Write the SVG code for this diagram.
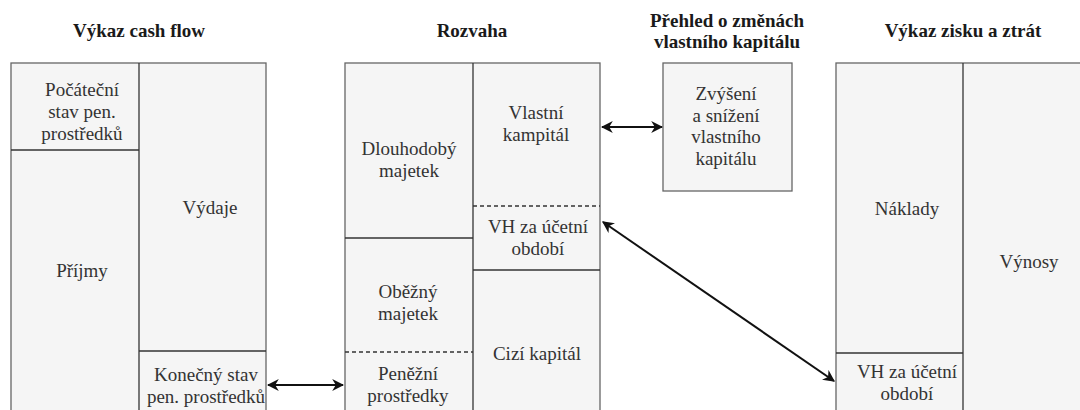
<svg xmlns="http://www.w3.org/2000/svg" width="1080" height="410" viewBox="0 0 1080 410">
<style>
.cell{fill:#f5f5f5;stroke:#666;stroke-width:1.3}
.div{stroke:#333;stroke-width:1.3;fill:none}
.dash{stroke:#333;stroke-width:1.3;stroke-dasharray:4 3;fill:none}
.t{font-family:'Liberation Serif','Times New Roman',serif;font-size:19px;fill:#333;text-anchor:middle}
.h{font-family:'Liberation Serif','Times New Roman',serif;font-size:19px;font-weight:bold;fill:#1a1a1a;text-anchor:middle}
.con{stroke:#111;stroke-width:2;fill:none;marker-start:url(#arr);marker-end:url(#arr)}
</style>
<defs>
<marker id="arr" viewBox="0 0 10 10" refX="9" refY="5" markerWidth="12" markerHeight="12" markerUnits="userSpaceOnUse" orient="auto-start-reverse">
<path d="M0,0 L10,5 L0,10 L3,5 Z" fill="#111"/>
</marker>
</defs>
<rect width="1080" height="410" fill="#fff"/>

<g id="cashflow">
<text class="h" x="139" y="37">Výkaz cash flow</text>
<rect class="cell" x="11" y="63" width="255" height="360"/>
<line class="div" x1="139" y1="63" x2="139" y2="423"/>
<line class="div" x1="11" y1="150" x2="139" y2="150"/>
<line class="div" x1="139" y1="351" x2="266" y2="351"/>
<text class="t"><tspan x="82" y="96">Počáteční</tspan><tspan x="82" y="118">stav pen.</tspan><tspan x="82" y="140">prostředků</tspan></text>
<text class="t" x="82" y="277">Příjmy</text>
<text class="t" x="210" y="214">Výdaje</text>
<text class="t"><tspan x="206" y="381">Konečný stav</tspan><tspan x="206" y="403">pen. prostředků</tspan></text>
</g>

<g id="rozvaha">
<text class="h" x="472" y="37">Rozvaha</text>
<rect class="cell" x="345" y="63" width="255" height="360"/>
<line class="div" x1="473" y1="63" x2="473" y2="423"/>
<line class="div" x1="345" y1="238" x2="473" y2="238"/>
<line class="dash" x1="345" y1="352" x2="473" y2="352"/>
<line class="dash" x1="473" y1="206" x2="600" y2="206"/>
<line class="div" x1="473" y1="270" x2="600" y2="270"/>
<text class="t"><tspan x="409" y="155">Dlouhodobý</tspan><tspan x="409" y="177">majetek</tspan></text>
<text class="t"><tspan x="408" y="298">Oběžný</tspan><tspan x="408" y="320">majetek</tspan></text>
<text class="t"><tspan x="408" y="380">Peněžní</tspan><tspan x="408" y="402">prostředky</tspan></text>
<text class="t"><tspan x="536" y="119">Vlastní</tspan><tspan x="536" y="141">kampitál</tspan></text>
<text class="t"><tspan x="538" y="233">VH za účetní</tspan><tspan x="538" y="255">období</tspan></text>
<text class="t" x="537" y="360">Cizí kapitál</text>
</g>

<g id="prehled">
<text class="h"><tspan x="727" y="27">Přehled o změnách</tspan><tspan x="727" y="48">vlastního kapitálu</tspan></text>
<rect class="cell" x="663" y="63" width="129" height="128"/>
<text class="t"><tspan x="726" y="100">Zvýšení</tspan><tspan x="726" y="122">a snížení</tspan><tspan x="726" y="143">vlastního</tspan><tspan x="726" y="165">kapitálu</tspan></text>
</g>

<g id="zisk">
<text class="h" x="963" y="37">Výkaz zisku a ztrát</text>
<rect class="cell" x="836" y="63" width="255" height="360"/>
<line class="div" x1="963" y1="63" x2="963" y2="423"/>
<line class="div" x1="836" y1="353" x2="963" y2="353"/>
<text class="t" x="907" y="215">Náklady</text>
<text class="t"><tspan x="907" y="378">VH za účetní</tspan><tspan x="907" y="400">období</tspan></text>
<text class="t" x="1029" y="268">Výnosy</text>
</g>

<g id="connectors">
<line class="con" x1="268" y1="385" x2="343" y2="385"/>
<line class="con" x1="602" y1="127" x2="662" y2="127"/>
<line class="con" x1="603" y1="222" x2="834" y2="381"/>
</g>
</svg>
